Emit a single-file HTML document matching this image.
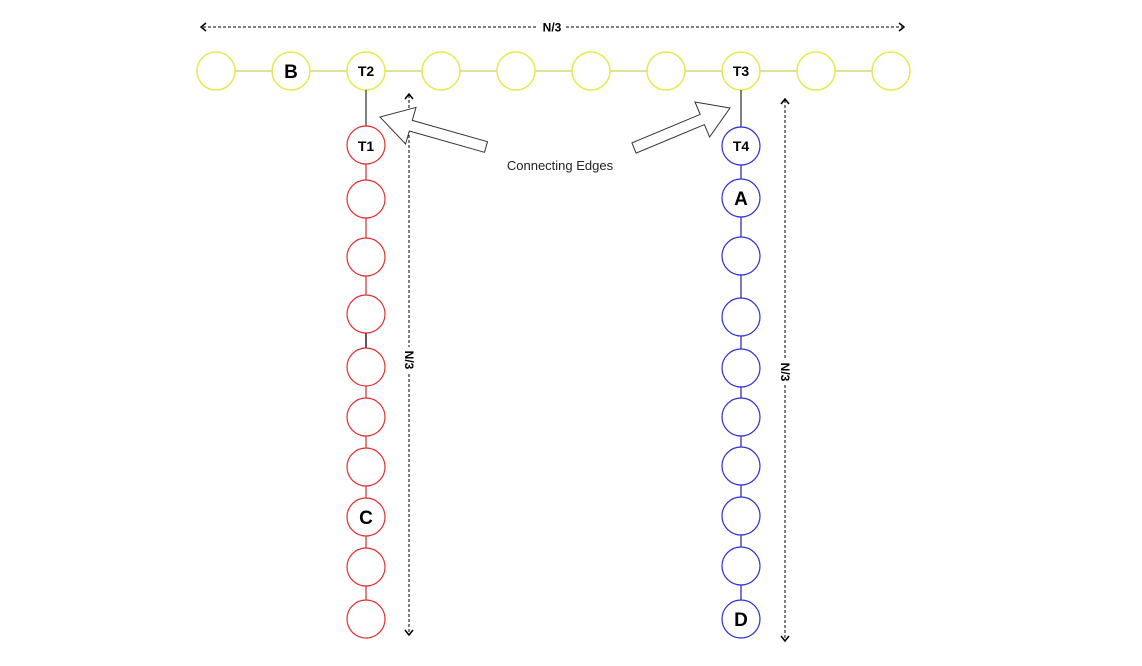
<!DOCTYPE html>
<html><head><meta charset="utf-8"><style>html,body{margin:0;padding:0;background:#fff}</style></head>
<body>
<svg width="1142" height="661" viewBox="0 0 1142 661" xmlns="http://www.w3.org/2000/svg" font-family="Liberation Sans, sans-serif">
<rect width="1142" height="661" fill="#fff"/>
<!-- top N/3 -->
<line x1="203" y1="27" x2="538" y2="27" stroke="#000" stroke-dasharray="3,2"/>
<line x1="566" y1="27" x2="902" y2="27" stroke="#000" stroke-dasharray="3,2"/>
<path d="M206,23 L201,27 L206,31" fill="none" stroke="#000" stroke-width="1.5"/>
<path d="M899,23 L904,27 L899,31" fill="none" stroke="#000" stroke-width="1.5"/>
<text x="552" y="31.5" font-size="12" font-weight="bold" text-anchor="middle">N/3</text>
<!-- yellow row -->
<line x1="216" y1="71" x2="891" y2="71" stroke="#d8d870" stroke-width="1.5"/>
<g fill="#fff" stroke="#e8e850" stroke-width="1.5">
<circle cx="216" cy="71" r="19"/><circle cx="291" cy="71" r="19"/><circle cx="366" cy="71" r="19"/><circle cx="441" cy="71" r="19"/><circle cx="516" cy="71" r="19"/><circle cx="591" cy="71" r="19"/><circle cx="666" cy="71" r="19"/><circle cx="741" cy="71" r="19"/><circle cx="816" cy="71" r="19"/><circle cx="891" cy="71" r="19"/>
</g>
<!-- connecting edges -->
<line x1="366" y1="90" x2="366" y2="127" stroke="#000"/>
<line x1="741" y1="90" x2="741" y2="127" stroke="#000"/>
<!-- red column -->
<line x1="366" y1="145" x2="366" y2="617" stroke="#d03030" stroke-width="1.2"/>
<line x1="366" y1="333" x2="366" y2="348" stroke="#000" stroke-width="1.2"/>
<g fill="#fff" stroke="#e03030" stroke-width="1.2">
<circle cx="366" cy="145" r="19"/><circle cx="366" cy="199" r="19"/><circle cx="366" cy="257" r="19"/><circle cx="366" cy="314" r="19"/><circle cx="366" cy="367" r="19"/><circle cx="366" cy="417" r="19"/><circle cx="366" cy="467" r="19"/><circle cx="366" cy="517" r="19"/><circle cx="366" cy="567" r="19"/><circle cx="366" cy="619" r="19"/>
</g>
<!-- blue column -->
<line x1="741" y1="146" x2="741" y2="619" stroke="#2020b0" stroke-width="1.2"/>
<g fill="#fff" stroke="#3030d0" stroke-width="1.2">
<circle cx="741" cy="146" r="19"/><circle cx="741" cy="198" r="19"/><circle cx="741" cy="256" r="19"/><circle cx="741" cy="317" r="19"/><circle cx="741" cy="368" r="19"/><circle cx="741" cy="417" r="19"/><circle cx="741" cy="466" r="19"/><circle cx="741" cy="516" r="19"/><circle cx="741" cy="566" r="19"/><circle cx="741" cy="619" r="19"/>
</g>
<!-- labels -->
<g font-weight="bold" text-anchor="middle">
<text x="291" y="78" font-size="19">B</text>
<text x="366" y="76" font-size="14">T2</text>
<text x="741" y="76" font-size="14">T3</text>
<text x="366" y="151" font-size="14">T1</text>
<text x="741" y="151" font-size="14">T4</text>
<text x="741" y="205" font-size="19">A</text>
<text x="366" y="524" font-size="19">C</text>
<text x="741" y="626" font-size="19">D</text>
</g>
<!-- vertical N/3 left -->
<line x1="409" y1="95" x2="409" y2="347" stroke="#000" stroke-dasharray="3,2"/>
<line x1="409" y1="374" x2="409" y2="634" stroke="#000" stroke-dasharray="3,2"/>
<path d="M405,99 L409,94 L413,99" fill="none" stroke="#000" stroke-width="1.5"/>
<path d="M405,630 L409,635 L413,630" fill="none" stroke="#000" stroke-width="1.5"/>
<text x="0" y="0" font-size="12" font-weight="bold" text-anchor="middle" transform="translate(405,360) rotate(90)">N/3</text>
<!-- vertical N/3 right -->
<line x1="785" y1="100" x2="785" y2="358" stroke="#000" stroke-dasharray="3,2"/>
<line x1="785" y1="385" x2="785" y2="640" stroke="#000" stroke-dasharray="3,2"/>
<path d="M781,104 L785,99 L789,104" fill="none" stroke="#000" stroke-width="1.5"/>
<path d="M781,636 L785,641 L789,636" fill="none" stroke="#000" stroke-width="1.5"/>
<text x="0" y="0" font-size="12" font-weight="bold" text-anchor="middle" transform="translate(781,372) rotate(90)">N/3</text>
<!-- hollow arrows -->
<polygon points="380,117 416,107.4 412.3,120.4 487.5,141.7 484.5,152.3 409.3,131 405.6,144" fill="#fff" stroke="#333" stroke-width="1"/>
<polygon points="730,108 695,102 700.2,114.4 631.9,142.9 636.1,153.1 704.4,124.6 709.6,137" fill="#fff" stroke="#333" stroke-width="1"/>
<text x="560" y="170" font-size="13" text-anchor="middle" fill="#222">Connecting Edges</text>
</svg>
</body></html>
